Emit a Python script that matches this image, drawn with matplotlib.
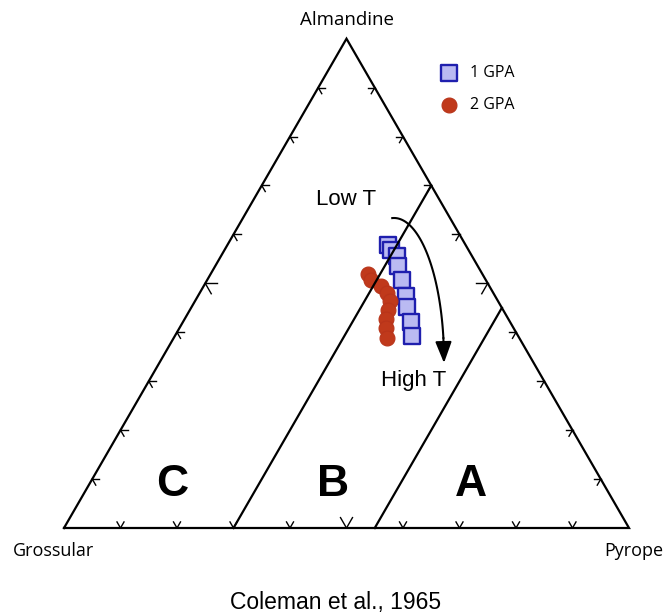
import numpy as np
import matplotlib
matplotlib.use("Agg")
import matplotlib.pyplot as plt

# garnet compositions (%)
alm_1gpa = [57.8, 56.8, 55.5, 53.5, 50.7, 47.5, 45.2, 42.1, 39.2]
pyr_1gpa = [28.4, 29.5, 31.1, 32.3, 34.5, 36.8, 38.1, 40.3, 42.0]
gro_1gpa = [13.8, 13.7, 13.4, 14.2, 14.8, 15.7, 16.7, 17.6, 18.8]

alm_2gpa = [51.9, 50.7, 49.5, 48.0, 46.4, 44.6, 42.7, 40.9, 38.8]
pyr_2gpa = [27.8, 29.0, 31.4, 33.2, 34.5, 35.0, 35.6, 36.6, 37.8]
gro_2gpa = [20.3, 20.3, 19.1, 18.8, 19.1, 20.4, 21.7, 22.5, 23.4]

# field boundaries: constant pyrope (%)
bound_B = 30
bound_A = 55

H = np.sqrt(3) / 2


def tern(alm, pyr):
    alm = np.asarray(alm) / 100.0
    pyr = np.asarray(pyr) / 100.0
    return pyr + 0.5 * alm, alm * H


fig = plt.figure(figsize=(6.65, 6.15), dpi=100)
ax = fig.add_axes([0, 0, 1, 1])
ax.set_xlim(-64 / 565, 601 / 565)
ax.set_ylim(-87 / 565, 528 / 565)
ax.set_aspect("equal")
ax.axis("off")

# outer triangle
x, y = tern([0, 0, 100, 0], [0, 100, 0, 0])
ax.plot(x, y, color="k", lw=1.6, zorder=4, solid_joinstyle="miter")

# field boundaries
for p in (bound_B, bound_A):
    x, y = tern([0, 100 - p], [p, p])
    ax.plot(x, y, color="k", lw=1.6, zorder=4)

# ticks
def tick(x0, y0, angles, L):
    for a in angles:
        r = np.radians(a)
        ax.plot([x0, x0 + L * np.cos(r)], [y0, y0 + L * np.sin(r)],
                color="k", lw=1.0, zorder=4)

for i in range(10, 100, 10):
    L = 12 / 565 if i == 50 else 7 / 565
    bx, by = tern(0, i)
    tick(bx, by, [60, 120], L)
    lx, ly = tern(i, 0)
    tick(lx, ly, [0, -60], L)
    rx, ry = tern(i, 100 - i)
    tick(rx, ry, [180, -120], L)

# data
ax.scatter(*tern(alm_1gpa, pyr_1gpa), marker="s", s=140, facecolor="#babaf2",
           edgecolor="#1f1fae", linewidth=1.7, zorder=3, label="1 GPA")
ax.scatter(*tern(alm_2gpa, pyr_2gpa), marker="o", s=115, facecolor="#c0391b",
           edgecolor="#b8341a", linewidth=0.8, zorder=3, label="2 GPA")

# temperature arrow
cx, cy, a, b = (394 - 64) / 565, (528 - 360) / 565, 50 / 565, 142 / 565
t = np.radians(np.linspace(92, 9, 100))
ax.plot(cx + a * np.cos(t), cy + b * np.sin(t), color="k", lw=1.5, zorder=4)
ax.annotate("", xy=(cx + a, cy - 3 / 565),
            xytext=(cx + a * np.cos(t[-1]), cy + b * np.sin(t[-1])),
            arrowprops=dict(arrowstyle="-|>,head_length=1.3,head_width=0.5",
                            color="k", lw=1.5, shrinkA=0, shrinkB=0), zorder=5)

sans = "Liberation Sans"
ax.text((346 - 64) / 565, (528 - 200) / 565, "Low T", fontsize=16, family=sans,
        ha="center", va="center")
ax.text((414 - 64) / 565, (528 - 381) / 565, "High T", fontsize=16, family=sans,
        ha="center", va="center")

for lab, px in (("C", 172), ("B", 333), ("A", 471)):
    ax.text((px - 64) / 565, (528 - 485) / 565, lab, fontsize=32, family=sans,
            weight="bold", ha="center", va="center")

lab = "Open Sans"
ax.text(0.5, H + 19 / 565, "Almandine", fontsize=13.5, family=lab,
        ha="center", va="center")
ax.text(-10 / 565, -23 / 565, "Grossular", fontsize=13, family=lab,
        ha="center", va="center")
ax.text(1 + 5 / 565, -23 / 565, "Pyrope", fontsize=13, family=lab,
        ha="center", va="center")
ax.text((336 - 64) / 565, (528 - 602) / 565, "Coleman et al., 1965",
        fontsize=16.5, family=sans, ha="center", va="center")

leg = ax.legend(loc="upper left", bbox_to_anchor=(433 / 665, 1 - 65 / 615),
                frameon=False, borderaxespad=0, borderpad=0,
                handletextpad=0.3, labelspacing=1.0, prop={"family": lab, "size": 11.5})

fig.savefig("out.png", dpi=100)
